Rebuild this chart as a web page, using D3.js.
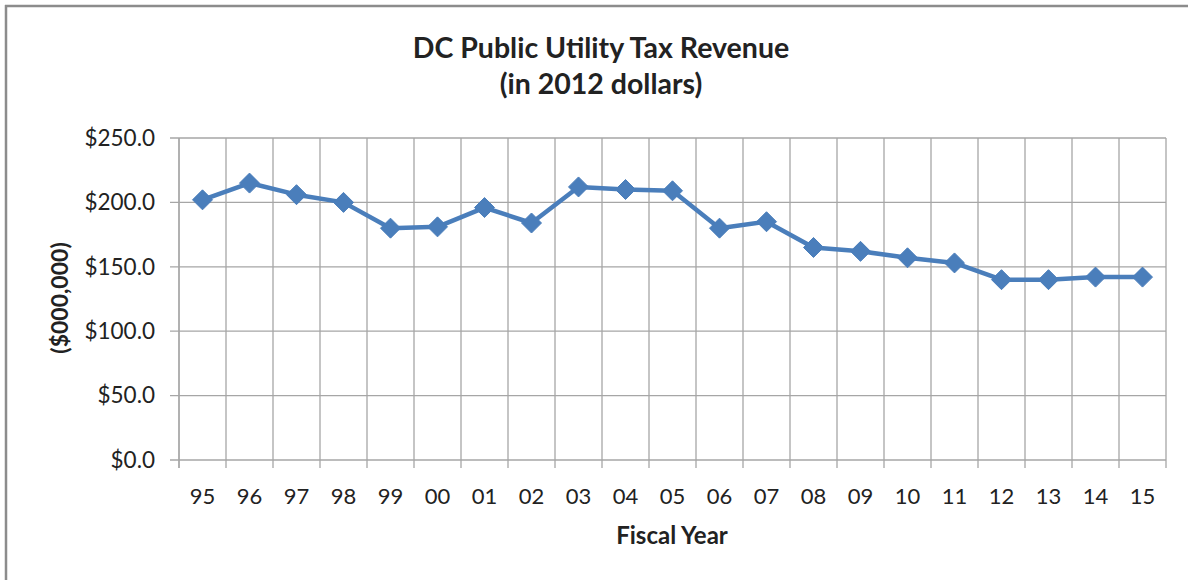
<!DOCTYPE html>
<html><head><meta charset="utf-8">
<script src="https://cdn.jsdelivr.net/npm/d3@7"></script>
<style>
html,body{margin:0;padding:0;background:#fff;}
svg{display:block;}
text{font-family:Lato,"Open Sans",sans-serif;fill:#222;}
</style></head>
<body>
<svg id="chart" width="1188" height="580"></svg>
<script>
const years = ["95","96","97","98","99","00","01","02","03","04","05","06","07","08","09","10","11","12","13","14","15"];
const revenue = [202,215,206,200,180,181,196,184,212,210,209,180,185,165,162,157,153,140,140,142,142];
const yTicks = [0,50,100,150,200,250];
const titleLines = ["DC Public Utility Tax Revenue","(in 2012 dollars)"];
const yTitle = "($000,000)";
const xTitle = "Fiscal Year";

const svg = d3.select("#chart");
const m = {left:179, right:1166, top:138, bottom:460};

svg.append("line").attr("x1",5).attr("x2",1188).attr("y1",6).attr("y2",6).attr("stroke","#8c8c8c").attr("stroke-width",2.5);
svg.append("line").attr("x1",6).attr("x2",6).attr("y1",5).attr("y2",580).attr("stroke","#8c8c8c").attr("stroke-width",2.5);

const x = d3.scaleBand().domain(years).range([m.left,m.right]).padding(0);
const y = d3.scaleLinear().domain([0,250]).range([m.bottom,m.top]);

const grid = "#a6a6a6";
svg.append("g").selectAll("line").data(yTicks).join("line")
  .attr("x1",m.left-9).attr("x2",m.right).attr("y1",d=>y(d)).attr("y2",d=>y(d))
  .attr("stroke",grid).attr("stroke-width",1.3);
const bounds = years.map(d=>x(d)).concat([x(years[years.length-1])+x.bandwidth()]);
svg.append("g").selectAll("line").data(bounds).join("line")
  .attr("x1",d=>d).attr("x2",d=>d).attr("y1",m.top).attr("y2",m.bottom+8)
  .attr("stroke",grid).attr("stroke-width",1.3);
svg.append("line").attr("x1",m.left).attr("x2",m.left).attr("y1",m.top).attr("y2",m.bottom+8).attr("stroke",grid).attr("stroke-width",1.3);

svg.append("g").selectAll("text").data(yTicks).join("text")
  .attr("x",155).attr("y",d=>y(d)).attr("dy","0.35em").attr("text-anchor","end")
  .attr("font-size",22.5).text(d=>"$"+d3.format(".1f")(d));
svg.append("g").selectAll("text").data(years).join("text")
  .attr("x",d=>x(d)+x.bandwidth()/2).attr("y",504).attr("text-anchor","middle")
  .attr("font-size",22).text(d=>d);

svg.append("g").selectAll("text").data(titleLines).join("text")
  .attr("x",601).attr("y",(d,i)=>58+i*36).attr("text-anchor","middle")
  .attr("font-size",28.5).attr("font-weight","bold").text(d=>d);
svg.append("text").attr("transform","translate(68,298) rotate(-90)").attr("text-anchor","middle")
  .attr("font-size",23).attr("font-weight","bold").text(yTitle);
svg.append("text").attr("x",672).attr("y",544).attr("text-anchor","middle")
  .attr("font-size",24).attr("font-weight","bold").text(xTitle);

const cx = d=>x(d)+x.bandwidth()/2;
const line = d3.line().x((d,i)=>cx(years[i])).y(d=>y(d));
svg.append("path").datum(revenue).attr("d",line).attr("fill","none")
  .attr("stroke","#4a7ebb").attr("stroke-width",4.5).attr("stroke-linejoin","round");
svg.append("g").selectAll("path").data(revenue).join("path")
  .attr("transform",(d,i)=>`translate(${cx(years[i])},${y(d)})`)
  .attr("d","M0,-10L10,0L0,10L-10,0Z").attr("fill","#4a7ebb").attr("stroke","#4a7ebb").attr("stroke-width",1);
</script>
</body></html>
